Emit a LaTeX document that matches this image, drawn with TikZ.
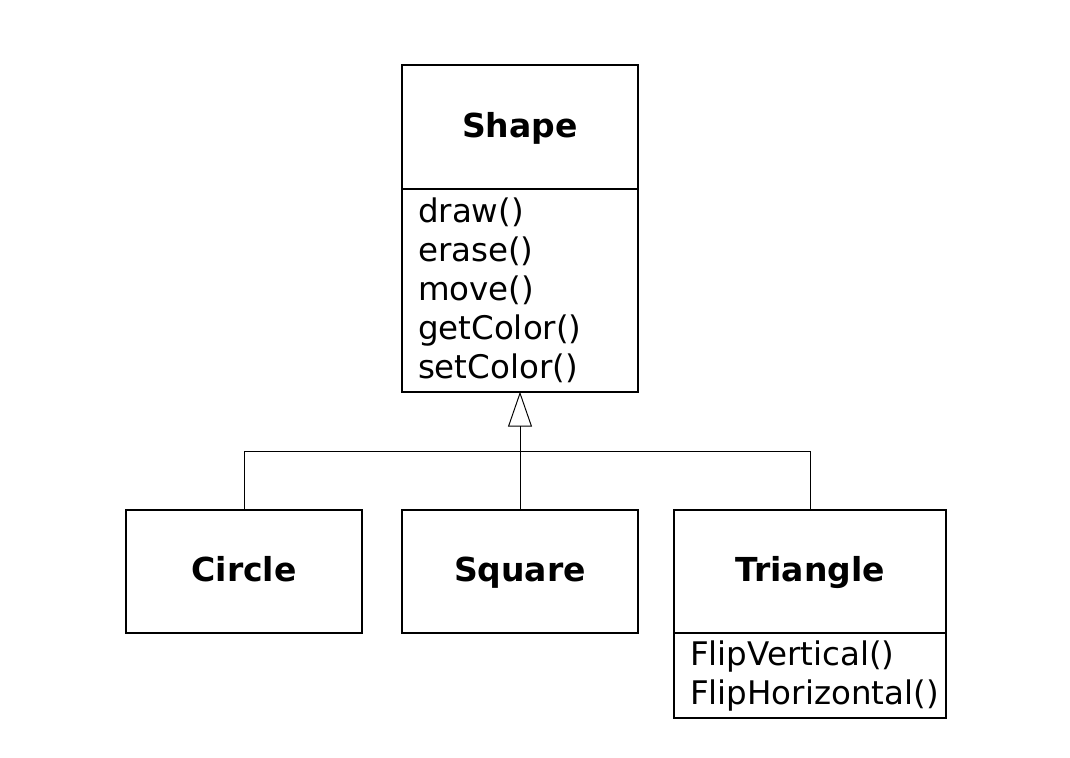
\documentclass[tikz,border=0pt]{standalone}
\usepackage{fontspec}
\setmainfont{DejaVu Sans}
\usetikzlibrary{positioning, arrows.meta}

\begin{document}
\begin{tikzpicture}[x=0.02cm, y=-0.02cm,
    box/.style={draw, line width=1.1pt, outer sep=0pt, fill=white, font=\fontsize{18.5}{22.2}\selectfont},
    head/.style={box, minimum height=2.47cm, text height=1.15em, text depth=0pt,
        font=\fontsize{18.8}{22.2}\selectfont\bfseries},
    ops/.style={box, align=left, inner xsep=0.32cm, inner ysep=2pt},
    link/.style={line width=0.55pt}]
    \useasboundingbox (0,0) rectangle (1070,757);
    %classe base
    \node[head, minimum width=4.72cm] (shape) at (520,127) {Shape};
    \node[ops, text width=4.08cm, minimum height=4.06cm, below=0pt of shape] (shapeops)
        {draw()\\erase()\\move()\\getColor()\\setColor()};
    %classi derivate
    \node[head, minimum width=4.72cm] (circle) at (244,571.5) {Circle};
    \node[head, minimum width=4.72cm] (square) at (520,571.5) {Square};
    \node[head, minimum width=5.44cm] (triangle) at (810,571.5) {Triangle};
    \node[ops, text width=4.8cm, minimum height=1.7cm, below=0pt of triangle] (triops)
        {FlipVertical()\\FlipHorizontal()};
    %ereditarieta
    \coordinate (join) at (520,451);
    \draw[link] (circle) |- (join);
    \draw[link] (triangle) |- (join);
    \draw[link, -{Triangle[open, length=0.7cm, width=0.48cm]}] (square) -- (shapeops);
\end{tikzpicture}
\end{document}
